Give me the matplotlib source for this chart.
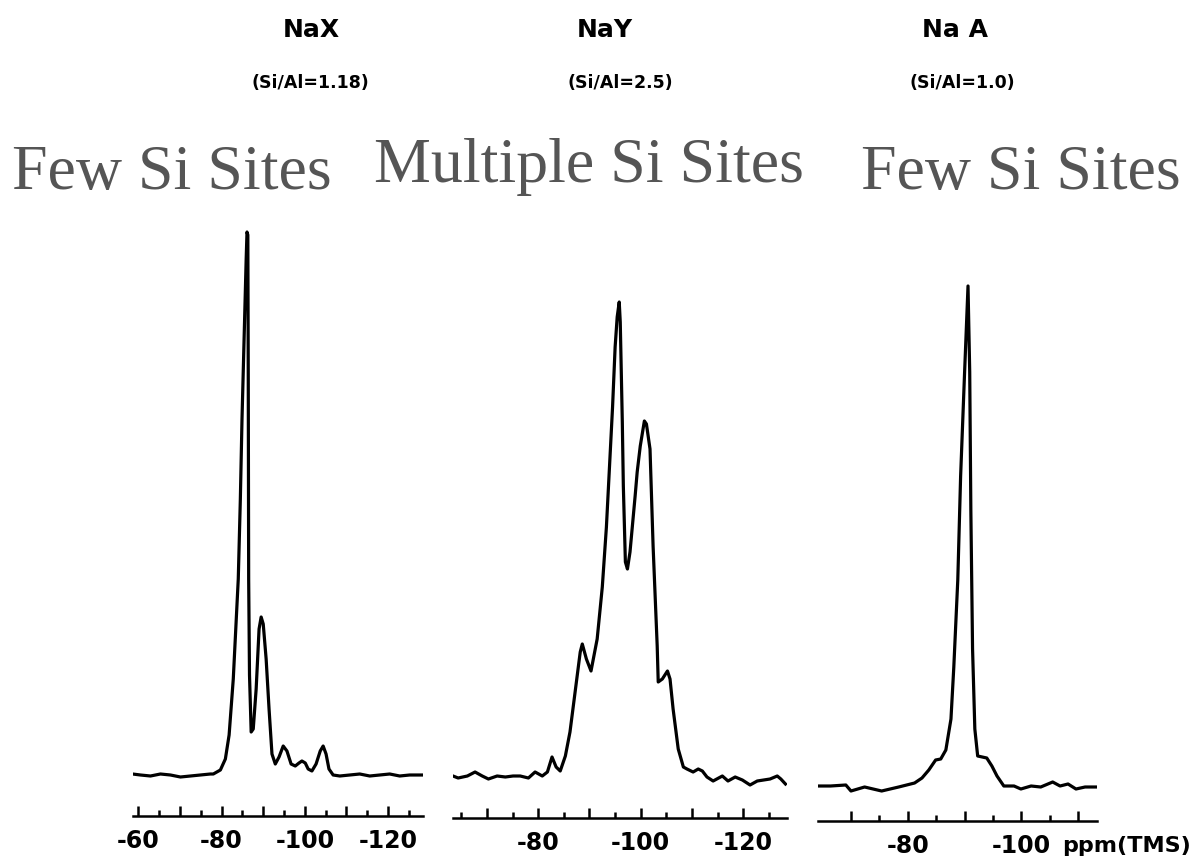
import matplotlib
matplotlib.use('Agg')
import matplotlib.pyplot as plt

W, H = 1200, 862

# 29Si MAS NMR traces (ppm, height above baseline)
nax_ppm = [-58.6, -60.5, -62.9, -65.3, -67.7, -70.1, -72.5, -74.9, -77.3, -78.0,
           -79.7, -80.9, -81.8, -82.8, -84.0, -84.5, -84.9, -85.4, -85.9, -86.1,
           -86.3, -86.4, -86.5, -86.7, -87.1, -87.6, -88.3, -89.0, -89.5, -90.0,
           -90.7, -91.4, -92.1, -92.9, -93.8, -94.8, -95.7, -96.7, -97.7, -98.6,
           -99.3, -100.1, -100.8, -101.7, -102.7, -103.7, -104.4, -105.1, -105.8, -106.8,
           -108.4, -110.8, -113.2, -115.6, -118.0, -120.4, -122.8, -125.2, -128.1]
nax_int = [1, 0, -1, 1, 0, -2, -1, 0, 1, 1,
           5, 16, 40, 96, 196, 276, 356, 436, 516, 543,
           540, 400, 196, 100, 43, 46, 86, 146, 158, 151,
           116, 66, 21, 11, 18, 29, 24, 11, 9, 12,
           14, 12, 6, 4, 11, 24, 29, 21, 6, 0,
           -1, 0, 1, -1, 0, 1, -1, 0, 0]

nay_ppm = [-63.4, -64.4, -66.2, -67.7, -69.1, -70.3, -72.0, -73.6, -75.1, -76.5,
           -78.1, -79.4, -80.8, -81.8, -82.7, -83.5, -84.3, -85.3, -86.2, -87.2,
           -88.2, -88.6, -89.4, -90.3, -91.5, -92.5, -93.3, -93.9, -94.5, -95.0,
           -95.4, -95.8, -96.0, -96.4, -96.6, -97.0, -97.4, -97.9, -98.9, -99.3,
           -99.9, -100.7, -101.1, -101.8, -102.4, -103.2, -103.4, -104.2, -105.2, -105.7,
           -106.3, -107.3, -108.3, -109.0, -110.2, -111.2, -112.0, -112.9, -114.1, -115.9,
           -117.0, -118.4, -119.8, -121.3, -122.7, -125.2, -126.6, -127.3, -128.2]
nay_int = [1, -1, 1, 5, 1, -2, 1, 0, 1, 1,
           -1, 5, 1, 5, 20, 10, 6, 21, 45, 85,
           125, 133, 118, 106, 138, 190, 250, 310, 370, 430,
           460, 475, 455, 355, 291, 215, 208, 225, 281, 305,
           331, 356, 353, 328, 231, 131, 95, 98, 106, 98,
           68, 28, 10, 8, 5, 8, 6, 0, -4, 1,
           -4, 0, -3, -8, -4, -2, 1, -2, -7]

naa_ppm = [-64.3, -66.4, -69.1, -70.0, -72.4, -75.4, -78.4, -81.2, -82.5, -83.7,
           -84.9, -85.8, -86.7, -87.6, -88.1, -88.8, -89.3, -90.0, -90.6, -90.9,
           -91.1, -91.4, -91.8, -92.3, -93.9, -94.8, -95.7, -96.9, -98.7, -99.9,
           -101.7, -103.4, -105.5, -106.8, -108.2, -109.6, -111.2, -113.4]
naa_int = [0, 0, 1, -5, -1, -5, -1, 3, 8, 16,
           26, 27, 36, 67, 119, 206, 310, 414, 500, 414,
           275, 137, 57, 30, 28, 20, 10, 0, 0, -3,
           0, -1, 4, 0, 2, -3, -1, -1]

names = ['NaX', 'NaY', 'Na A']
ratios = ['(Si/Al=1.18)', '(Si/Al=2.5)', '(Si/Al=1.0)']
captions = ['Few Si Sites', 'Multiple Si Sites', 'Few Si Sites']
tick_labels = [[-60, -80, -100, -120], [-80, -100, -120], [-80, -100]]
major_ticks = [[-60, -70, -80, -90, -100, -110, -120],
               [-70, -80, -90, -100, -110, -120],
               [-70, -80, -90, -100, -110]]
minor_ticks = [[-65, -75, -85, -95, -105, -115, -125],
               [-65, -75, -85, -95, -105, -115, -125],
               [-75, -85, -95, -105]]

# layout in pixels: x0, x1, baseline y, axis y, ppm limits
panels = [
    (133, 423, 776, 817, (-58.7, -128.4)),
    (453, 787, 778, 819, (-63.4, -128.5)),
    (818, 1097, 787, 822, (-64.2, -113.3)),
]
data = [(nax_ppm, nax_int), (nay_ppm, nay_int), (naa_ppm, naa_int)]

fig = plt.figure(figsize=(W / 100, H / 100), dpi=100)
top = 200
for i, (x0, x1, base, axy, xl) in enumerate(panels):
    ax = fig.add_axes([x0 / W, (H - axy) / H, (x1 - x0) / W, (axy - top) / H])
    ppm, inten = data[i]
    ax.plot(ppm, inten, color='black', lw=2.3, solid_joinstyle='round')
    ax.set_xlim(xl)
    ax.set_ylim(base - axy, base - top)
    for s in ['top', 'left', 'right']:
        ax.spines[s].set_visible(False)
    ax.spines['bottom'].set_linewidth(1.8)
    ax.set_yticks([])
    labs = ['%d' % m if m in tick_labels[i] else '' for m in major_ticks[i]]
    ax.set_xticks(major_ticks[i], labs)
    ax.set_xticks(minor_ticks[i], minor=True)
    ax.tick_params(axis='x', which='major', direction='in', length=7, width=1.8,
                   pad=9, labelsize=17)
    ax.tick_params(axis='x', which='minor', direction='in', length=4, width=1.8)
    for lab in ax.get_xticklabels():
        lab.set_fontweight('bold')
    ax.patch.set_alpha(0)

# titles
title_x = [311, 605, 955]
sub_x = [310, 620, 962]
for i in range(3):
    fig.text(title_x[i] / W, 1 - 30 / H, names[i], ha='center', va='center',
             fontsize=18, fontweight='bold')
    fig.text(sub_x[i] / W, 1 - 83 / H, ratios[i], ha='center', va='center',
             fontsize=12.5, fontweight='bold')

cap_x = [172, 589, 1021]
cap_y = [189, 182, 189]
for i in range(3):
    fig.text(cap_x[i] / W, 1 - cap_y[i] / H, captions[i], ha='center', va='baseline',
             fontsize=46, family='Liberation Serif', color='#555555')

fig.text(1062 / W, 1 - 846 / H, 'ppm(TMS)', ha='left', va='center', fontsize=16,
         fontweight='bold')

plt.savefig('out.png', dpi=100)
